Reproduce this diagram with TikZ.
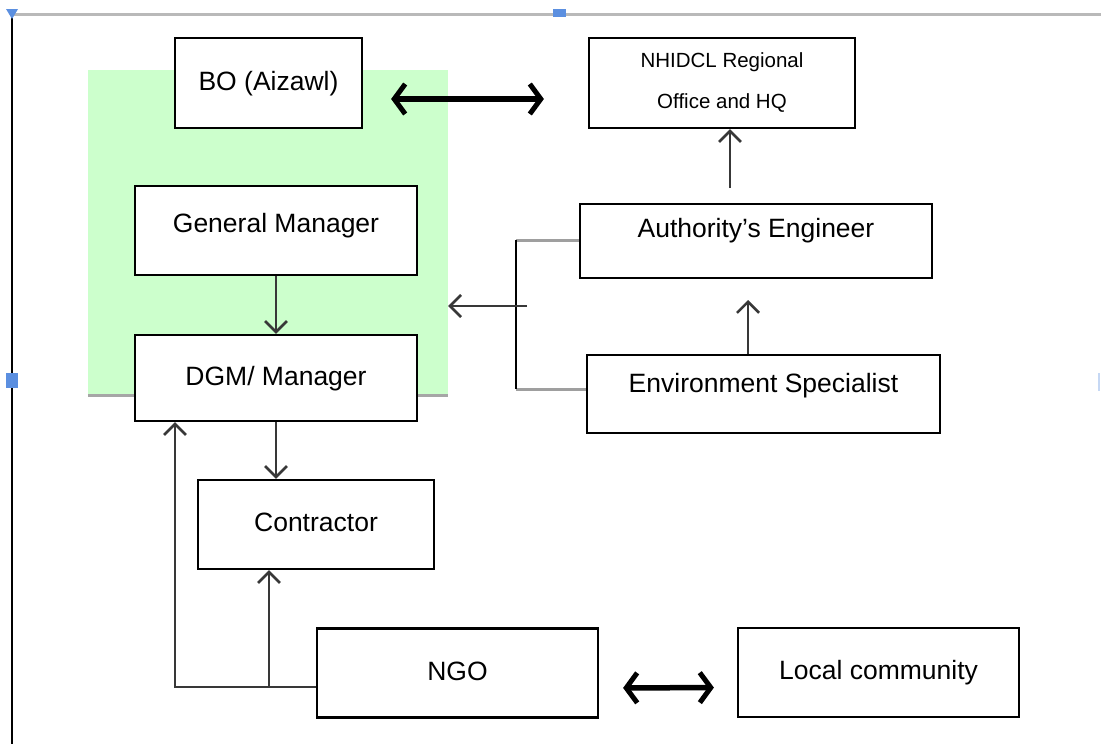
\documentclass[tikz,border=0pt]{standalone}
\usepackage{fontspec}
\setmainfont{Liberation Sans}
\usetikzlibrary{arrows.meta}
\definecolor{paleGreen}{HTML}{CCFFCC}
\definecolor{markBlue}{HTML}{5B8FE0}
\definecolor{lineGray}{HTML}{383838}
\tikzset{
  box/.style={draw, line width=2.2pt, fill=white, inner sep=0pt},
  onerow/.style={box, font=\fontsize{26.5}{30}\selectfont, text height=19pt, text depth=5pt},
  conn/.style={draw=lineGray, line width=2.6pt, -{Straight Barb[length=11pt,width=22pt,line width=2.6pt]}},
  bigarrow/.style={draw=black, line width=5.5pt, {Straight Barb[length=11pt,width=30pt,line width=5pt]}-{Straight Barb[length=11pt,width=30pt,line width=5pt]}},
}

\begin{document}
\begin{tikzpicture}[x=1pt, y=-1pt]
  \useasboundingbox (0,0) rectangle (1101,744);

  % frame of the page
  \draw[line width=3pt, gray!55] (12,14) -- (1101,14);
  \draw[line width=2pt] (12,14) -- (12,744);
  \fill[markBlue] (6,9) -- (18,9) -- (12,19) -- cycle;
  \fill[markBlue] (553,9) rectangle (566,17);
  \fill[markBlue] (6,373) rectangle (18,388);
  \draw[markBlue!35, line width=1.5pt] (1099,373) -- (1099,391);

  % green office block
  \node[fill=paleGreen, minimum width=360pt, minimum height=325pt, inner sep=0pt] (office) at (268,232.5) {};
  \draw[line width=3pt, gray!70] (office.south west) -- (office.south east);

  % boxes
  \node[onerow, minimum width=187pt, minimum height=90pt] (bo) at (268.5,83) {BO (Aizawl)};
  \node[box, minimum width=266pt, minimum height=90pt, align=center,
        font=\fontsize{20.5}{41}\selectfont] (nhidcl) at (722,83) {NHIDCL Regional\\Office and HQ};
  \node[onerow, text depth=15pt, minimum width=282pt, minimum height=89pt] (gm) at (276,230.5) {General Manager};
  \node[onerow, minimum width=282pt, minimum height=86pt] (dgm) at (276,378) {DGM/ Manager};
  \node[onerow, text depth=27pt, minimum width=352pt, minimum height=74pt] (ae) at (756,241) {Authority’s Engineer};
  \node[onerow, text depth=23pt, minimum width=353pt, minimum height=78pt] (es) at (763.5,394) {Environment Specialist};
  \node[onerow, minimum width=236pt, minimum height=89pt] (contractor) at (316,524.5) {Contractor};
  \node[onerow, minimum width=281pt, minimum height=89pt] (ngo) at (457.5,673) {NGO};
  \node[onerow, minimum width=281pt, minimum height=89pt] (community) at (878.5,672.5) {Local community};

  % connectors
  \coordinate (aeup) at (730,188);
  \coordinate (esup) at (748,300);
  \coordinate (brtop) at (516,240);
  \coordinate (brbot) at (516,389);
  \coordinate (brout) at (527,306);
  \coordinate (corner) at (175,687);
  \coordinate (split) at (269,687);

  \draw[bigarrow, shorten <=28pt, shorten >=44pt] ([yshift=-16pt]bo.east) -- ([yshift=-16pt]nhidcl.west);
  \draw[bigarrow, shorten <=24pt, shorten >=23pt] ([yshift=-15pt]ngo.east) -- ([yshift=-15pt]community.west);
  \draw[conn] (gm) -- (dgm);
  \draw[conn] (dgm.south) -- (dgm.south |- contractor.north);
  \draw[conn] (aeup) -- (aeup |- nhidcl.south);
  \draw[conn] (esup |- es.north) -- (esup);
  \draw[line width=3pt, gray!75] (ae.west |- brtop) -- (brtop);
  \draw[line width=3pt, gray!75] (brbot) -- (es.west |- brbot);
  \draw[line width=1.5pt] (brtop) -- (brbot);
  \draw[conn] (brout) -- (office.east |- brout);
  \draw[conn] (ngo.west |- corner) -- (corner) -- (corner |- dgm.south);
  \draw[conn] (split) -- (split |- contractor.south);
\end{tikzpicture}
\end{document}
